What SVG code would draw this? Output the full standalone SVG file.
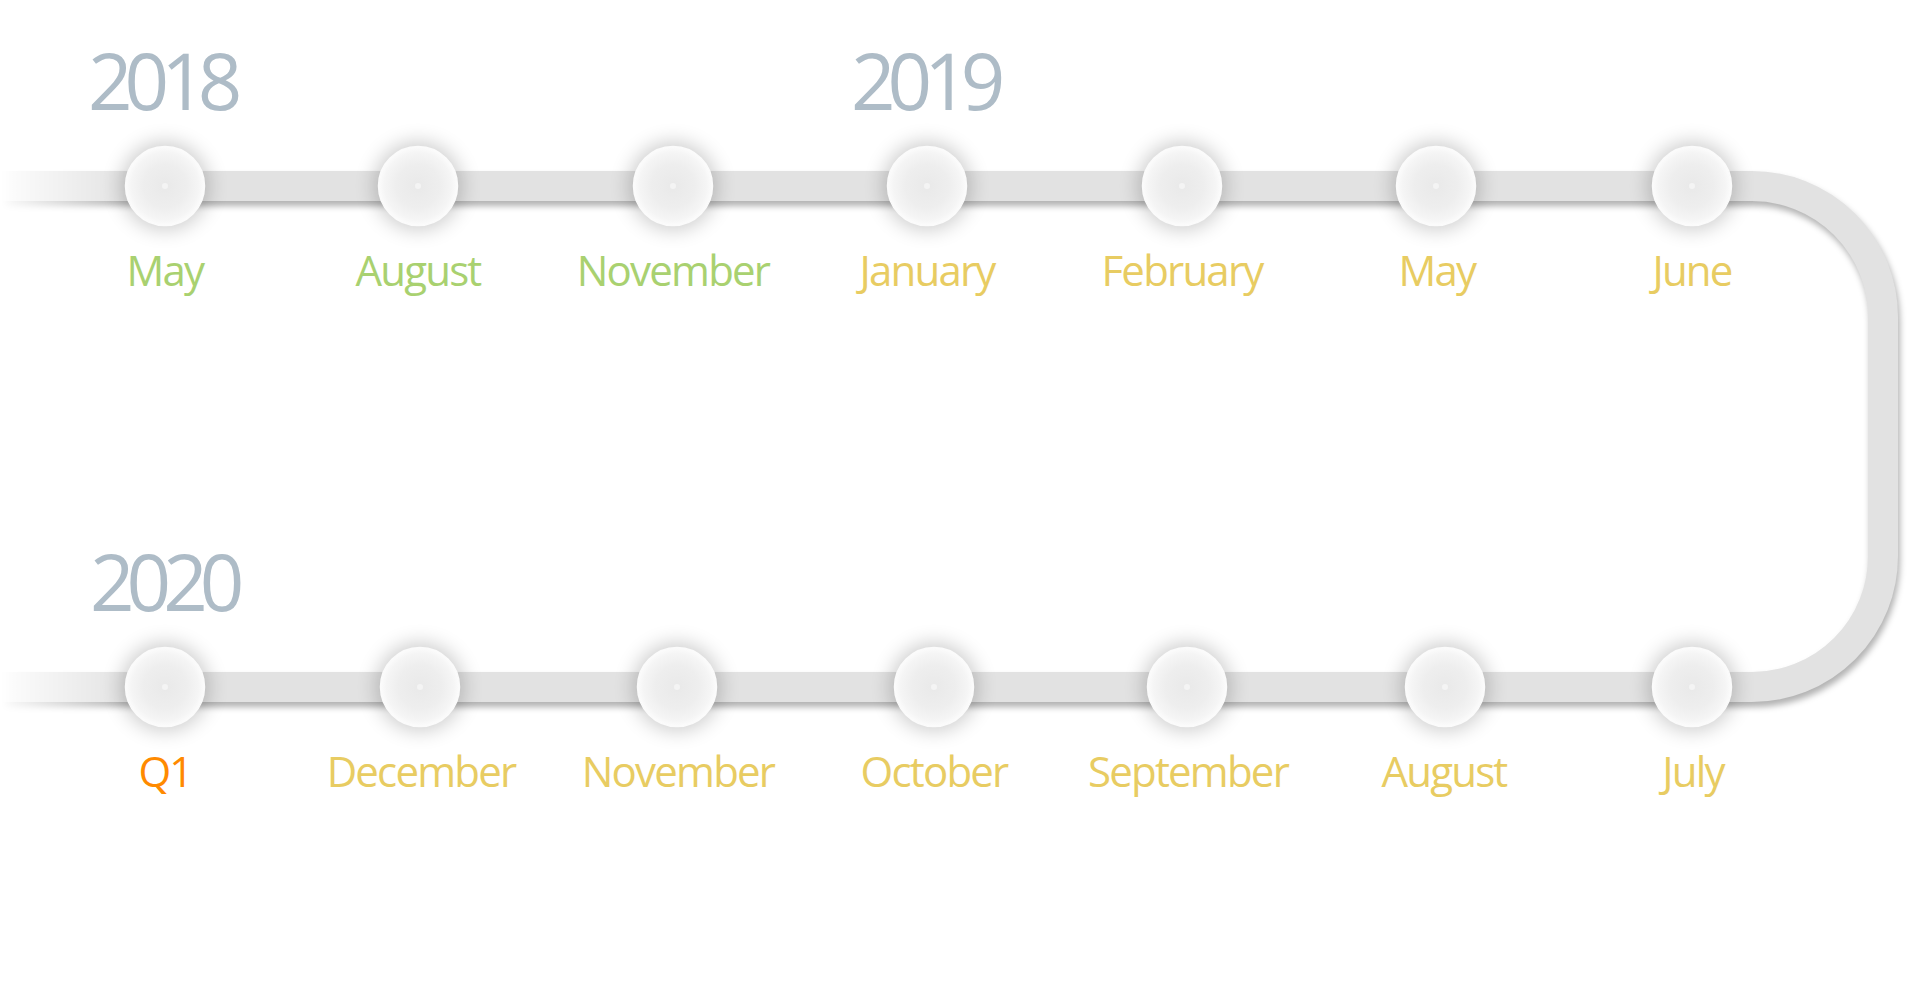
<svg xmlns="http://www.w3.org/2000/svg" width="1920" height="1000" viewBox="0 0 1920 1000">
  <style>
    .year { font-family: "Open Sans", "Noto Sans", sans-serif; font-size: 78px; fill: #aebcc7; letter-spacing: -8px; }
    .lbl { font-family: "Open Sans", "Noto Sans", sans-serif; font-size: 42px; font-weight: 500; text-anchor: middle; letter-spacing: -1.8px; }
    .g { fill: #a9d170; }
    .y { fill: #e8cc62; }
    .o { fill: #ff8a00; }
    .halo { fill: #000; opacity: 0.2; filter: url(#blurHalo); }
    .ball { fill: url(#ballGrad); stroke: #fbfbfb; stroke-width: 1.5; }
    .dot { fill: #f4f4f4; }
  </style>
  <defs>
    <filter id="blurHalo" x="-60%" y="-60%" width="220%" height="220%">
      <feGaussianBlur stdDeviation="10"/>
    </filter>
    <filter id="blurTrack" x="-5%" y="-10%" width="110%" height="120%">
      <feGaussianBlur stdDeviation="3"/>
    </filter>
    <radialGradient id="ballGrad" cx="0.5" cy="0.5" r="0.5">
      <stop offset="0" stop-color="#e9e9e9"/>
      <stop offset="0.55" stop-color="#eeeeee"/>
      <stop offset="0.85" stop-color="#f5f5f5"/>
      <stop offset="1" stop-color="#fcfcfc"/>
    </radialGradient>
    <linearGradient id="fadeGrad" gradientUnits="userSpaceOnUse" x1="0" y1="0" x2="130" y2="0">
      <stop offset="0" stop-color="#fff" stop-opacity="0"/>
      <stop offset="0.12" stop-color="#fff" stop-opacity="0.15"/>
      <stop offset="1" stop-color="#fff" stop-opacity="1"/>
    </linearGradient>
    <mask id="fadeMask" maskUnits="userSpaceOnUse" x="0" y="0" width="1920" height="1000">
      <rect x="0" y="0" width="1920" height="1000" fill="url(#fadeGrad)"/>
    </mask>
  </defs>

  <rect x="0" y="0" width="1920" height="1000" fill="#ffffff"/>

  <g id="connectors" mask="url(#fadeMask)">
    <path d="M 0 186 H 1752 A 131 131 0 0 1 1883 317 V 556 A 131 131 0 0 1 1752 687 H 0" fill="none" stroke="#000" stroke-opacity="0.3" stroke-width="30" transform="translate(2,5)" filter="url(#blurTrack)"/>
    <path d="M 0 186 H 1752 A 131 131 0 0 1 1883 317 V 556 A 131 131 0 0 1 1752 687 H 0" fill="none" stroke="#e2e2e2" stroke-width="30"/>
  </g>

  <g id="years">
    <text class="year" x="88" y="110">2018</text>
    <text class="year" x="851" y="110">2019</text>
    <text class="year" x="90" y="611">2020</text>
  </g>

  <g id="n-2018-may"><circle class="halo" cx="165" cy="186" r="44"/><circle class="ball" cx="165" cy="186" r="39.5"/><circle class="dot" cx="165" cy="186" r="3"/><text class="lbl g" x="165" y="286">May</text></g>
  <g id="n-2018-aug"><circle class="halo" cx="418" cy="186" r="44"/><circle class="ball" cx="418" cy="186" r="39.5"/><circle class="dot" cx="418" cy="186" r="3"/><text class="lbl g" x="418" y="286">August</text></g>
  <g id="n-2018-nov"><circle class="halo" cx="673" cy="186" r="44"/><circle class="ball" cx="673" cy="186" r="39.5"/><circle class="dot" cx="673" cy="186" r="3"/><text class="lbl g" x="673" y="286">November</text></g>
  <g id="n-2019-jan"><circle class="halo" cx="927" cy="186" r="44"/><circle class="ball" cx="927" cy="186" r="39.5"/><circle class="dot" cx="927" cy="186" r="3"/><text class="lbl y" x="927" y="286">January</text></g>
  <g id="n-2019-feb"><circle class="halo" cx="1182" cy="186" r="44"/><circle class="ball" cx="1182" cy="186" r="39.5"/><circle class="dot" cx="1182" cy="186" r="3"/><text class="lbl y" x="1182" y="286">February</text></g>
  <g id="n-2019-may"><circle class="halo" cx="1436" cy="186" r="44"/><circle class="ball" cx="1436" cy="186" r="39.5"/><circle class="dot" cx="1436" cy="186" r="3"/><text class="lbl y" x="1437" y="286">May</text></g>
  <g id="n-2019-jun"><circle class="halo" cx="1692" cy="186" r="44"/><circle class="ball" cx="1692" cy="186" r="39.5"/><circle class="dot" cx="1692" cy="186" r="3"/><text class="lbl y" x="1692" y="286">June</text></g>

  <g id="n-2019-jul"><circle class="halo" cx="1692" cy="687" r="44"/><circle class="ball" cx="1692" cy="687" r="39.5"/><circle class="dot" cx="1692" cy="687" r="3"/><text class="lbl y" x="1693" y="787">July</text></g>
  <g id="n-2019-aug"><circle class="halo" cx="1445" cy="687" r="44"/><circle class="ball" cx="1445" cy="687" r="39.5"/><circle class="dot" cx="1445" cy="687" r="3"/><text class="lbl y" x="1444" y="787">August</text></g>
  <g id="n-2019-sep"><circle class="halo" cx="1187" cy="687" r="44"/><circle class="ball" cx="1187" cy="687" r="39.5"/><circle class="dot" cx="1187" cy="687" r="3"/><text class="lbl y" x="1188" y="787">September</text></g>
  <g id="n-2019-oct"><circle class="halo" cx="934" cy="687" r="44"/><circle class="ball" cx="934" cy="687" r="39.5"/><circle class="dot" cx="934" cy="687" r="3"/><text class="lbl y" x="934" y="787">October</text></g>
  <g id="n-2019-nov"><circle class="halo" cx="677" cy="687" r="44"/><circle class="ball" cx="677" cy="687" r="39.5"/><circle class="dot" cx="677" cy="687" r="3"/><text class="lbl y" x="678" y="787">November</text></g>
  <g id="n-2019-dec"><circle class="halo" cx="420" cy="687" r="44"/><circle class="ball" cx="420" cy="687" r="39.5"/><circle class="dot" cx="420" cy="687" r="3"/><text class="lbl y" x="421" y="787">December</text></g>
  <g id="n-2020-q1"><circle class="halo" cx="165" cy="687" r="44"/><circle class="ball" cx="165" cy="687" r="39.5"/><circle class="dot" cx="165" cy="687" r="3"/><text class="lbl o" x="165" y="787">Q1</text></g>
</svg>
